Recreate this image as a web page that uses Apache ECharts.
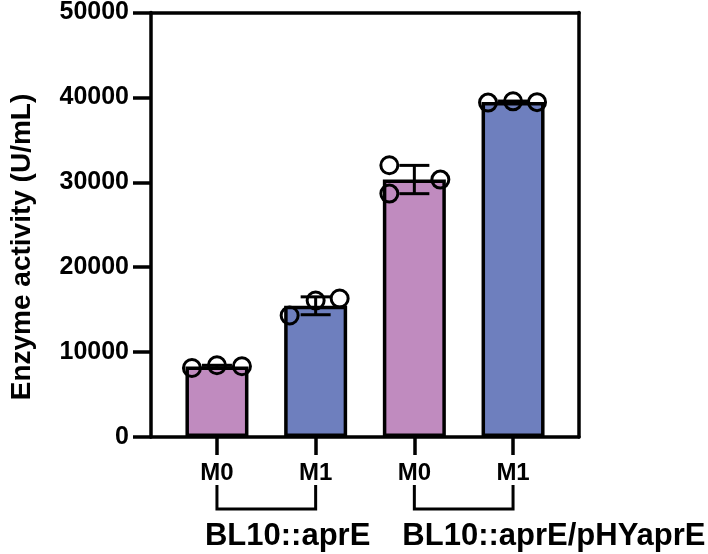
<!DOCTYPE html>
<html>
<head>
<meta charset="utf-8">
<script src="https://cdn.jsdelivr.net/npm/echarts@6/dist/echarts.min.js"></script>
<style>
  html, body { margin: 0; padding: 0; background: #fff; }
  #main { width: 708px; height: 554px; }
</style>
</head>
<body>
<div id="main"></div>
<script>
// data
const categories = ['M0', 'M1', 'M0', 'M1']
const means = [8270, 15400, 30220, 39330]
const sds = [150, 1050, 1660, 100]
const points = [
  [8100, 8420, 8300],
  [14260, 16020, 16260],
  [31900, 28570, 30210],
  [39250, 39400, 39300]
]
const groupNames = ['BL10::aprE', 'BL10::aprE/pHYaprE']
const groupStart = [0, 2]
const groupEnd = [1, 3]
const yTicks = [0, 10000, 20000, 30000, 40000, 50000]

// style
const barColors = ['#c08bbf', '#6e7fbe', '#c08bbf', '#6e7fbe']
const jitter = [[-25, 0, 25], [-26, 0, 24], [-25, -25, 26], [-25, 0, 24]]
const font = '"Liberation Sans", Arial, sans-serif'
const LW = 3.5

const myChart = echarts.init(document.getElementById('main'))

const scatterData = []
points.forEach((arr, i) => {
  arr.forEach((v, j) => {
    scatterData.push({ value: [i, v], symbolOffset: [jitter[i][j], 0] })
  })
})

const frameLine = { show: true, onZero: false, lineStyle: { color: '#000', width: LW } }

const options = {
  animation: false,
  backgroundColor: '#fff',
  grid: [
    { left: 151, top: 11, width: 428, height: 426 },   // 外框
    { left: 167.6, top: 11, width: 394.8, height: 426 } // 柱子
  ],
  xAxis: [
    {
      gridIndex: 0, type: 'value', min: 0, max: 1,
      axisLine: frameLine,
      axisTick: { show: false }, axisLabel: { show: false }, splitLine: { show: false }
    },
    {
      gridIndex: 0, type: 'value', min: 0, max: 1, position: 'top',
      axisLine: frameLine,
      axisTick: { show: false }, axisLabel: { show: false }, splitLine: { show: false }
    },
    {
      gridIndex: 1, type: 'category', data: categories,
      axisLine: { show: false },
      axisTick: { show: true, alignWithLabel: true, length: 18, lineStyle: { color: '#000', width: LW } },
      axisLabel: { color: '#000', fontSize: 24, fontWeight: 'bold', fontFamily: font, margin: 24 },
      splitLine: { show: false }
    }
  ],
  yAxis: [
    {
      gridIndex: 0, type: 'value', min: 0, max: 50000, interval: 10000,
      axisLine: frameLine,
      axisTick: { show: true, length: 18, lineStyle: { color: '#000', width: LW } },
      axisLabel: {
        color: '#000', fontSize: 25, fontWeight: 'bold', fontFamily: font, margin: 22,
        customValues: yTicks,
        formatter: (v) => String(v)
      },
      splitLine: { show: false }
    },
    {
      gridIndex: 0, type: 'value', min: 0, max: 50000, position: 'right',
      axisLine: frameLine,
      axisTick: { show: false }, axisLabel: { show: false }, splitLine: { show: false }
    },
    {
      gridIndex: 1, type: 'value', min: 0, max: 50000, show: false
    }
  ],
  graphic: [
    {
      type: 'text',
      x: 22, y: 247,
      rotation: Math.PI / 2,
      style: {
        text: 'Enzyme activity (U/mL)',
        fill: '#000', font: 'bold 28px ' + font,
        align: 'center', verticalAlign: 'middle'
      }
    }
  ],
  series: [
    {
      type: 'bar', xAxisIndex: 2, yAxisIndex: 2,
      barWidth: 63,
      data: means.map((v, i) => ({
        value: v,
        itemStyle: { color: barColors[i], borderColor: '#000', borderWidth: LW }
      })),
      z: 2
    },
    // 误差线
    {
      type: 'custom', xAxisIndex: 2, yAxisIndex: 2, z: 3,
      data: means.map((m, i) => [i, m - sds[i], m + sds[i]]),
      renderItem: (params, api) => {
        const lo = api.coord([api.value(0), api.value(1)])
        const hi = api.coord([api.value(0), api.value(2)])
        const hw = 15
        const style = { stroke: '#000', lineWidth: 3, fill: null }
        return {
          type: 'group',
          children: [
            { type: 'line', shape: { x1: lo[0], y1: lo[1], x2: hi[0], y2: hi[1] }, style },
            { type: 'line', shape: { x1: lo[0] - hw, y1: lo[1], x2: lo[0] + hw, y2: lo[1] }, style },
            { type: 'line', shape: { x1: hi[0] - hw, y1: hi[1], x2: hi[0] + hw, y2: hi[1] }, style }
          ]
        }
      }
    },
    // 散点
    {
      type: 'scatter', xAxisIndex: 2, yAxisIndex: 2, z: 4,
      symbol: 'circle', symbolSize: 17,
      itemStyle: { color: 'rgba(0,0,0,0)', borderColor: '#000', borderWidth: 3, opacity: 1 },
      data: scatterData
    },
    // 分组括号
    {
      type: 'custom', xAxisIndex: 2, yAxisIndex: 2, z: 5, clip: false, silent: true,
      data: groupStart.map((s, i) => [s, groupEnd[i]]),
      renderItem: (params, api) => {
        const a = api.coord([api.value(0), 0])
        const b = api.coord([api.value(1), 0])
        const y0 = a[1] + 48
        const y1 = a[1] + 72
        return {
          type: 'group',
          children: [
            {
              type: 'polyline',
              shape: { points: [[a[0], y0], [a[0], y1], [b[0], y1], [b[0], y0]] },
              style: { stroke: '#000', lineWidth: 3, fill: null }
            },
            {
              type: 'text',
              x: a[0] - 12, y: a[1] + 99,
              style: {
                text: groupNames[params.dataIndex],
                fill: '#000', font: 'bold 31px ' + font,
                align: 'left', verticalAlign: 'middle'
              }
            }
          ]
        }
      }
    }
  ]
}

myChart.setOption(options)
</script>
</body>
</html>
